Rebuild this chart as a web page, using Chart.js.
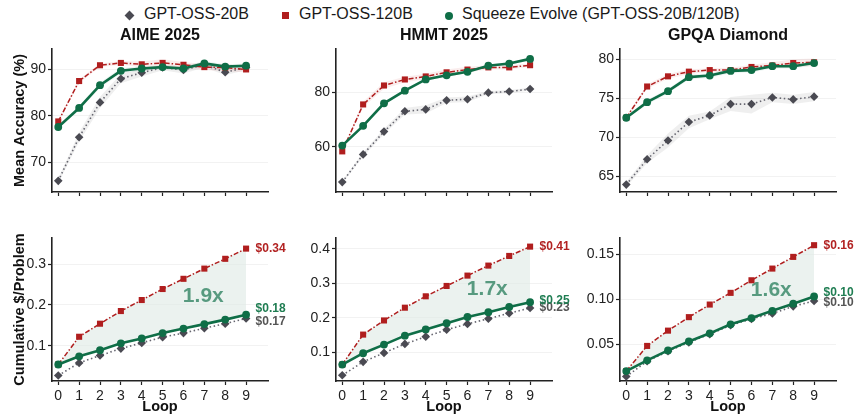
<!DOCTYPE html>
<html><head><meta charset="utf-8">
<script src="https://cdn.jsdelivr.net/npm/chart.js@4/dist/chart.umd.min.js"></script>
<style>
html,body{margin:0;padding:0;background:#fff;}
#wrap{position:relative;width:854px;height:420px;overflow:hidden;font-family:'Liberation Sans',Arial,sans-serif;}
canvas{position:absolute;}
.leg{position:absolute;top:5px;font-size:16px;color:#1a1a1a;line-height:18px;white-space:nowrap;}
.mk{position:absolute;}
</style></head><body><div id="wrap"></div>
<script>
// ---------------- DATA ----------------
const loops = [0,1,2,3,4,5,6,7,8,9];
const seriesNames = ['GPT-OSS-20B','GPT-OSS-120B','Squeeze Evolve (GPT-OSS-20B/120B)'];
const benchmarks = ['AIME 2025','HMMT 2025','GPQA Diamond'];

// Mean accuracy (%)
const aimeAcc20  = [66.0,75.4,82.9,88.0,89.3,90.4,89.9,91.0,89.4,90.4];
const aimeAcc120 = [78.8,87.5,90.9,91.4,91.1,91.4,91.0,90.5,90.4,90.0];
const aimeAccSq  = [77.6,81.7,86.6,89.7,90.2,90.5,90.2,91.3,90.6,90.8];
const hmmtAcc20  = [47.2,57.3,65.6,73.0,73.7,77.0,77.4,79.8,80.2,81.1];
const hmmtAcc120 = [58.4,75.5,82.4,84.6,85.7,87.2,88.2,89.0,89.0,89.8];
const hmmtAccSq  = [60.5,67.7,75.9,80.5,84.6,86.1,87.4,89.6,90.4,92.1];
const gpqaAcc20  = [63.95,67.2,69.6,71.95,72.8,74.25,74.25,75.1,74.85,75.2];
const gpqaAcc120 = [72.5,76.5,77.8,78.4,78.6,78.6,79.0,79.2,79.5,79.6];
const gpqaAccSq  = [72.5,74.5,75.9,77.7,77.9,78.5,78.6,79.1,79.1,79.5];

// half-width of the shaded bands around accuracy curves
const aimeBand20  = [0.5,1.0,1.2,1.0,0.8,0.6,0.8,0.6,0.6,0.6];
const aimeBand120 = [0.3,0.4,0.4,0.4,0.6,0.8,0.6,0.6,0.8,0.6];
const aimeBandSq  = [0.3,0.5,0.6,0.6,0.5,0.4,0.5,0.5,0.5,0.5];
const hmmtBand20  = [0.5,0.8,1.0,1.2,1.5,1.0,1.0,0.6,0.6,0.5];
const hmmtBand120 = [0.5,1.0,1.2,1.0,1.0,1.0,1.0,0.8,0.8,0.6];
const hmmtBandSq  = [0.4,0.6,0.6,0.5,0.5,0.5,0.5,0.5,0.5,0.5];
const gpqaBand20  = [0.3,0.5,0.9,0.8,0.5,0.9,1.2,0.6,0.6,0.6];
const gpqaBand120 = [0.2,0.3,0.3,0.3,0.2,0.3,0.3,0.4,0.5,0.5];
const gpqaBandSq  = [0.2,0.3,0.3,0.3,0.3,0.3,0.3,0.3,0.3,0.3];

// Cumulative $ / problem
const aimeCost20  = [0.027,0.058,0.076,0.093,0.107,0.121,0.131,0.143,0.154,0.167];
const aimeCost120 = [0.054,0.122,0.154,0.185,0.212,0.239,0.264,0.289,0.313,0.338];
const aimeCostSq  = [0.054,0.074,0.089,0.106,0.118,0.131,0.142,0.153,0.164,0.176];
const hmmtCost20  = [0.033,0.072,0.098,0.124,0.145,0.165,0.182,0.197,0.213,0.228];
const hmmtCost120 = [0.064,0.151,0.192,0.229,0.262,0.292,0.322,0.351,0.379,0.406];
const hmmtCostSq  = [0.064,0.097,0.122,0.148,0.166,0.184,0.202,0.216,0.231,0.245];
const gpqaCost20  = [0.014,0.031,0.042,0.052,0.061,0.071,0.078,0.084,0.092,0.098];
const gpqaCost120 = [0.020,0.048,0.065,0.080,0.094,0.107,0.121,0.134,0.147,0.160];
const gpqaCostSq  = [0.020,0.032,0.043,0.053,0.062,0.072,0.079,0.087,0.095,0.103];

// end labels & ratio labels
const aimeEndLabels = ['$0.17','$0.34','$0.18'];
const hmmtEndLabels = ['$0.23','$0.41','$0.25'];
const gpqaEndLabels = ['$0.10','$0.16','$0.10'];
const ratioLabels = ['1.9x','1.7x','1.6x'];

// tick values / labels
const accTicksAime = [70,80,90];
const accTicksHmmt = [60,80];
const accTicksGpqa = [65,70,75,80];
const costTicksAime = [0.1,0.2,0.3];
const costTickLabelsAime = ['0.1','0.2','0.3'];
const costTicksHmmt = [0.1,0.2,0.3,0.4];
const costTickLabelsHmmt = ['0.1','0.2','0.3','0.4'];
const costTicksGpqa = [0.05,0.10,0.15];
const costTickLabelsGpqa = ['0.05','0.10','0.15'];
const xAxisTitle = 'Loop';
const yTitleTop = 'Mean Accuracy (%)';
const yTitleBottom = 'Cumulative $/Problem';

// ---------------- STYLE ----------------
const FONT = "'Liberation Sans', Arial, sans-serif";
const C_GRAY = '#4a4a52', C_GRAY_LINE = '#666670';
const C_RED = '#b01e1e', C_GREEN = '#0f6e47';
const TXT_RED = '#b22222', TXT_GREEN = '#1f7d52', TXT_GRAY = '#555';
const AXIS = '#222';

const wrap = document.getElementById('wrap');

// Legend (HTML)
const legendPos = [{mk:130,tx:144},{mk:286,tx:299},{mk:449,tx:462}];
const legendMk = [
  'width:7px;height:7px;background:'+C_GRAY+';transform:rotate(45deg);top:12px;',
  'width:7px;height:7px;background:'+C_RED+';top:12px;',
  'width:8px;height:8px;border-radius:50%;background:'+C_GREEN+';top:11.5px;'
];
seriesNames.forEach((n,i)=>{
  const m=document.createElement('div'); m.className='mk';
  m.style.cssText=legendMk[i]+'left:'+(legendPos[i].mk-4)+'px;';
  wrap.appendChild(m);
  const s=document.createElement('span'); s.className='leg'; s.textContent=n;
  s.style.left=legendPos[i].tx+'px'; wrap.appendChild(s);
});

const colLeft = [0,284,568];
const colWidth = [300,300,286];

function mkCanvas(left, top, w, h){
  const c=document.createElement('canvas');
  c.width=w; c.height=h; c.style.left=left+'px'; c.style.top=top+'px';
  c.style.width=w+'px'; c.style.height=h+'px';
  wrap.appendChild(c); return c;
}

function lineDs(data, kind, extra){
  const base = {
    gray:{borderColor:C_GRAY_LINE,backgroundColor:C_GRAY,pointBorderColor:C_GRAY,borderWidth:1.6,borderDash:[1.5,2.6],pointStyle:'rectRot',pointRadius:4.3},
    red:{borderColor:C_RED,backgroundColor:C_RED,pointBorderColor:C_RED,borderWidth:1.5,borderDash:[5,2,1.5,2],pointStyle:'rect',pointRadius:4.3},
    green:{borderColor:C_GREEN,backgroundColor:C_GREEN,pointBorderColor:C_GREEN,borderWidth:2.6,borderDash:[],pointStyle:'circle',pointRadius:3.9}
  }[kind];
  return Object.assign({data:data.map((v,i)=>({x:loops[i],y:v})),pointBorderWidth:0,tension:0,fill:false,clip:false,pointHoverRadius:0},base,extra||{});
}
function bandDs(vals, half, color){
  return [
    {data:vals.map((v,i)=>({x:loops[i],y:v-half[i]})),borderWidth:0,pointRadius:0,fill:false,backgroundColor:color},
    {data:vals.map((v,i)=>({x:loops[i],y:v+half[i]})),borderWidth:0,pointRadius:0,fill:'-1',backgroundColor:color}
  ];
}

function scalesCfg(isBottom, ymin, ymax, yticks, ylabelFn, showYTitle){
  return {
    x:{type:'linear',min:-0.3,max:10.05,
      afterBuildTicks:s=>{s.ticks=loops.map(v=>({value:v}));},
      afterFit:s=>{s.height=isBottom?39:12;},
      grid:{drawOnChartArea:false,drawTicks:true,tickLength:4,tickColor:AXIS,tickWidth:1.2},
      border:{display:true,color:AXIS,width:1.6},
      ticks:{display:isBottom,padding:3,color:'#222',font:{family:FONT,size:14},maxRotation:0,autoSkip:false,
        callback:(v)=>String(v)},
      title:{display:isBottom,text:xAxisTitle,color:'#111',font:{family:FONT,size:14.5,weight:'bold'},padding:{top:0,bottom:4}}
    },
    y:{type:'linear',min:ymin,max:ymax,
      afterBuildTicks:s=>{s.ticks=yticks.map(v=>({value:v}));},
      afterFit:s=>{s.width=52;},
      grid:{color:'#f2f2f2',lineWidth:1,drawTicks:true,tickLength:4,tickColor:AXIS,tickWidth:1.2},
      border:{display:true,color:AXIS,width:1.6},
      ticks:{padding:2,color:'#222',font:{family:FONT,size:14},callback:(v,i)=>ylabelFn(v,i)},
      title:{display:showYTitle,text:isBottom?yTitleBottom:yTitleTop,color:'#111',font:{family:FONT,size:14.5,weight:'bold'},padding:{top:11,bottom:0}}
    }
  };
}

const titlePlugin = {
  id:'panelTitle',
  afterDraw(chart){
    const t=chart.options.plugins.panelTitle; if(!t||!t.text) return;
    const a=chart.chartArea, ctx=chart.ctx;
    ctx.save(); ctx.font='bold 16px '+FONT; ctx.fillStyle='#111';
    ctx.textAlign='center'; ctx.textBaseline='middle';
    ctx.fillText(t.text,(a.left+a.right)/2,t.y); ctx.restore();
  }
};
const endPlugin = {
  id:'endLabels',
  afterDatasetsDraw(chart){
    const o=chart.options.plugins.endLabels; if(!o) return;
    const ctx=chart.ctx, xs=chart.scales.x, ys=chart.scales.y;
    ctx.save();
    ctx.textBaseline='middle'; ctx.textAlign='left';
    ctx.font='bold 12px '+FONT;
    o.items.forEach(it=>{
      ctx.fillStyle=it.color;
      ctx.fillText(it.text, xs.getPixelForValue(loops[loops.length-1])+9.5, ys.getPixelForValue(it.value)+it.dy);
    });
    ctx.font='bold 21px '+FONT; ctx.fillStyle='rgba(30,120,85,0.72)'; ctx.textAlign='center';
    ctx.fillText(o.ratio, xs.getPixelForValue(6.95), ys.getPixelForValue(o.ratioY));
    ctx.restore();
  }
};

function makeChart(canvas, datasets, scales, padRight, padTop, plugins){
  return new Chart(canvas.getContext('2d'),{
    type:'line',
    data:{datasets},
    options:{
      responsive:false,animation:false,devicePixelRatio:1,
      layout:{padding:{left:0,right:padRight,top:padTop,bottom:0}},
      plugins:Object.assign({legend:{display:false},tooltip:{enabled:false}},plugins),
      scales
    },
    plugins:[titlePlugin,endPlugin]
  });
}

// ---------- top row ----------
const accSets = [
  {s20:aimeAcc20,s120:aimeAcc120,sq:aimeAccSq,b20:aimeBand20,b120:aimeBand120,bsq:aimeBandSq,min:63.6,max:94.4,ticks:accTicksAime},
  {s20:hmmtAcc20,s120:hmmtAcc120,sq:hmmtAccSq,b20:hmmtBand20,b120:hmmtBand120,bsq:hmmtBandSq,min:43.6,max:95.7,ticks:accTicksHmmt},
  {s20:gpqaAcc20,s120:gpqaAcc120,sq:gpqaAccSq,b20:gpqaBand20,b120:gpqaBand120,bsq:gpqaBandSq,min:63.0,max:81.3,ticks:accTicksGpqa}
];
accSets.forEach((p,i)=>{
  const cv=mkCanvas(colLeft[i],24,colWidth[i],180);
  const ds=[
    lineDs(p.sq,'green'), lineDs(p.s120,'red'), lineDs(p.s20,'gray'),
    ...bandDs(p.sq,p.bsq,'rgba(20,120,80,0.07)'),
    ...bandDs(p.s120,p.b120,'rgba(200,60,60,0.09)'),
    ...bandDs(p.s20,p.b20,'rgba(140,140,140,0.14)')
  ];
  makeChart(cv,ds,scalesCfg(false,p.min,p.max,p.ticks,(v)=>String(v),i===0),colWidth[i]-268,25,
    {panelTitle:{text:benchmarks[i],y:12}});
});

// ---------- bottom row ----------
function costTicks(i){ return [costTicksAime,costTicksHmmt,costTicksGpqa][i]; }
const costSets = [
  {s20:aimeCost20,s120:aimeCost120,sq:aimeCostSq,min:0.0136,max:0.364,ticks:costTicks(0),labels:costTickLabelsAime,end:aimeEndLabels,dy:[3,0,-6]},
  {s20:hmmtCost20,s120:hmmtCost120,sq:hmmtCostSq,min:0.0165,max:0.431,ticks:costTicks(1),labels:costTickLabelsHmmt,end:hmmtEndLabels,dy:[0,0,-1]},
  {s20:gpqaCost20,s120:gpqaCost120,sq:gpqaCostSq,min:0.009,max:0.168,ticks:costTicks(2),labels:costTickLabelsGpqa,end:gpqaEndLabels,dy:[1.5,0,-3.5]}
];
costSets.forEach((p,i)=>{
  const cv=mkCanvas(colLeft[i],210,colWidth[i],210);
  const ds=[
    lineDs(p.sq,'green'),
    lineDs(p.s120,'red',{fill:{target:0},backgroundColor:'rgba(222,234,228,0.6)'}),
    lineDs(p.s20,'gray')
  ];
  ds[1].pointBackgroundColor=C_RED;
  const last=loops.length-1;
  const items=[
    {text:p.end[0],value:p.s20[last],color:TXT_GRAY,dy:p.dy[0]},
    {text:p.end[1],value:p.s120[last],color:TXT_RED,dy:p.dy[1]},
    {text:p.end[2],value:p.sq[last],color:TXT_GREEN,dy:p.dy[2]}
  ];
  const ratioY=(p.s120[7]+p.sq[7])/2;
  makeChart(cv,ds,scalesCfg(true,p.min,p.max,p.ticks,(v,k)=>p.labels[k],i===0),colWidth[i]-268,28,
    {endLabels:{items,ratio:ratioLabels[i],ratioY}});
});
</script></body></html>
